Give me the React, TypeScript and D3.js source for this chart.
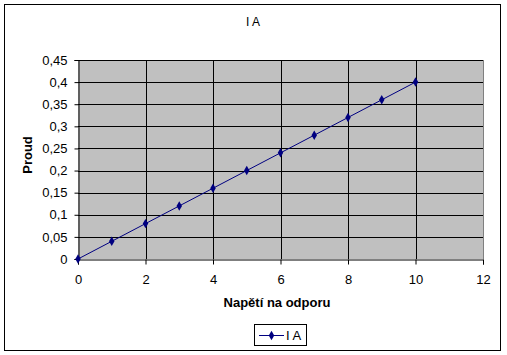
import { useEffect, useRef } from 'react';
import * as d3 from 'd3';

// Data
const napeti = [0, 1, 2, 3, 4, 5, 6, 7, 8, 9, 10];
const proud = [0, 0.04, 0.08, 0.12, 0.16, 0.2, 0.24, 0.28, 0.32, 0.36, 0.4];
const xTicks = [0, 2, 4, 6, 8, 10, 12];
const yTicks = [0, 0.05, 0.1, 0.15, 0.2, 0.25, 0.3, 0.35, 0.4, 0.45];
const seriesName = 'I A';

export default function App() {
  const svgRef = useRef<SVGSVGElement>(null);

  useEffect(() => {
    if (!svgRef.current) return;
    const width = 507;
    const height = 355;
    const font = 'Arial, "Liberation Sans", sans-serif';
    const plot = { left: 78, right: 483, top: 60, bottom: 259 };

    const svg = d3.select(svgRef.current);
    svg.selectAll('*').remove();
    svg.attr('width', width).attr('height', height);

    svg.append('rect').attr('width', width).attr('height', height).attr('fill', '#fff');
    svg
      .append('rect')
      .attr('x', 4.5)
      .attr('y', 4.5)
      .attr('width', 496)
      .attr('height', 346)
      .attr('fill', 'none')
      .attr('stroke', '#000')
      .attr('stroke-width', 1);

    const x = d3.scaleLinear().domain([0, 12]).range([plot.left, plot.right]);
    const y = d3.scaleLinear().domain([0, 0.45]).range([plot.bottom, plot.top]);

    // Plot background
    svg
      .append('rect')
      .attr('x', plot.left)
      .attr('y', plot.top)
      .attr('width', plot.right - plot.left)
      .attr('height', plot.bottom - plot.top)
      .attr('fill', '#c0c0c0');

    // Gridlines
    const grid = svg.append('g').attr('stroke', '#000').attr('shape-rendering', 'crispEdges');
    grid
      .selectAll('line.h')
      .data(yTicks.slice(1))
      .enter()
      .append('line')
      .attr('x1', plot.left)
      .attr('x2', plot.right)
      .attr('y1', (d) => Math.round(y(d)) + 0.5)
      .attr('y2', (d) => Math.round(y(d)) + 0.5);
    grid
      .selectAll('line.v')
      .data(xTicks.slice(1, -1))
      .enter()
      .append('line')
      .attr('y1', plot.top)
      .attr('y2', plot.bottom)
      .attr('x1', (d) => Math.round(x(d)) + 0.5)
      .attr('x2', (d) => Math.round(x(d)) + 0.5);

    // Right border of plot area (gray)
    svg
      .append('line')
      .attr('x1', plot.right + 0.5)
      .attr('x2', plot.right + 0.5)
      .attr('y1', plot.top)
      .attr('y2', plot.bottom)
      .attr('stroke', '#808080');

    // Axes
    const yAxis = svg
      .append('g')
      .attr('transform', `translate(${plot.left + 0.5},0)`)
      .call(
        d3
          .axisLeft(y)
          .tickValues(yTicks)
          .tickSize(4)
          .tickPadding(7)
          .tickFormat((d) => String(d).replace('.', ','))
      );
    yAxis.select('.domain').attr('stroke', '#000');
    yAxis.selectAll('text').attr('font-family', font).attr('font-size', '13px').attr('fill', '#000');

    const xAxis = svg
      .append('g')
      .attr('transform', `translate(0,${plot.bottom + 0.5})`)
      .call(d3.axisBottom(x).tickValues(xTicks).tickSize(5).tickPadding(10));
    xAxis.select('.domain').attr('stroke', '#000');
    xAxis.selectAll('text').attr('font-family', font).attr('font-size', '13px').attr('fill', '#000');

    // Series line and markers
    const pts = napeti.map((v, i) => [v, proud[i]] as [number, number]);
    const line = d3
      .line<[number, number]>()
      .x((d) => x(d[0]))
      .y((d) => y(d[1]));
    svg
      .append('path')
      .datum(pts)
      .attr('d', line)
      .attr('fill', 'none')
      .attr('stroke', '#000080')
      .attr('stroke-width', 1);

    const diamond = d3.symbol().type(d3.symbolDiamond).size(26);
    svg
      .selectAll('path.marker')
      .data(pts)
      .enter()
      .append('path')
      .attr('d', diamond)
      .attr('transform', (d) => `translate(${x(d[0])},${y(d[1])})`)
      .attr('fill', '#000080');

    // Title
    svg
      .append('text')
      .attr('x', 253)
      .attr('y', 26)
      .attr('text-anchor', 'middle')
      .attr('font-family', font)
      .attr('font-size', '12px')
      .text(seriesName);

    // Axis titles
    svg
      .append('text')
      .attr('x', 277)
      .attr('y', 307)
      .attr('text-anchor', 'middle')
      .attr('font-family', font)
      .attr('font-weight', 'bold')
      .attr('font-size', '13px')
      .text('Napětí na odporu');

    svg
      .append('text')
      .attr('transform', 'translate(32,155) rotate(-90)')
      .attr('text-anchor', 'middle')
      .attr('font-family', font)
      .attr('font-weight', 'bold')
      .attr('font-size', '13px')
      .text('Proud');

    // Legend
    const lg = svg.append('g');
    lg.append('rect')
      .attr('x', 254.5)
      .attr('y', 324.5)
      .attr('width', 52)
      .attr('height', 21)
      .attr('fill', '#fff')
      .attr('stroke', '#000');
    lg.append('line')
      .attr('x1', 259)
      .attr('x2', 284)
      .attr('y1', 335.5)
      .attr('y2', 335.5)
      .attr('stroke', '#000080');
    lg.append('path')
      .attr('d', diamond)
      .attr('transform', 'translate(271.5,335.5)')
      .attr('fill', '#000080');
    lg.append('text')
      .attr('x', 286)
      .attr('y', 340)
      .attr('font-family', font)
      .attr('font-size', '13px')
      .text(seriesName);
  }, []);

  return (
    <div style={{ position: 'fixed', left: 0, top: 0 }}>
      <svg ref={svgRef} style={{ display: 'block' }} />
    </div>
  );
}
